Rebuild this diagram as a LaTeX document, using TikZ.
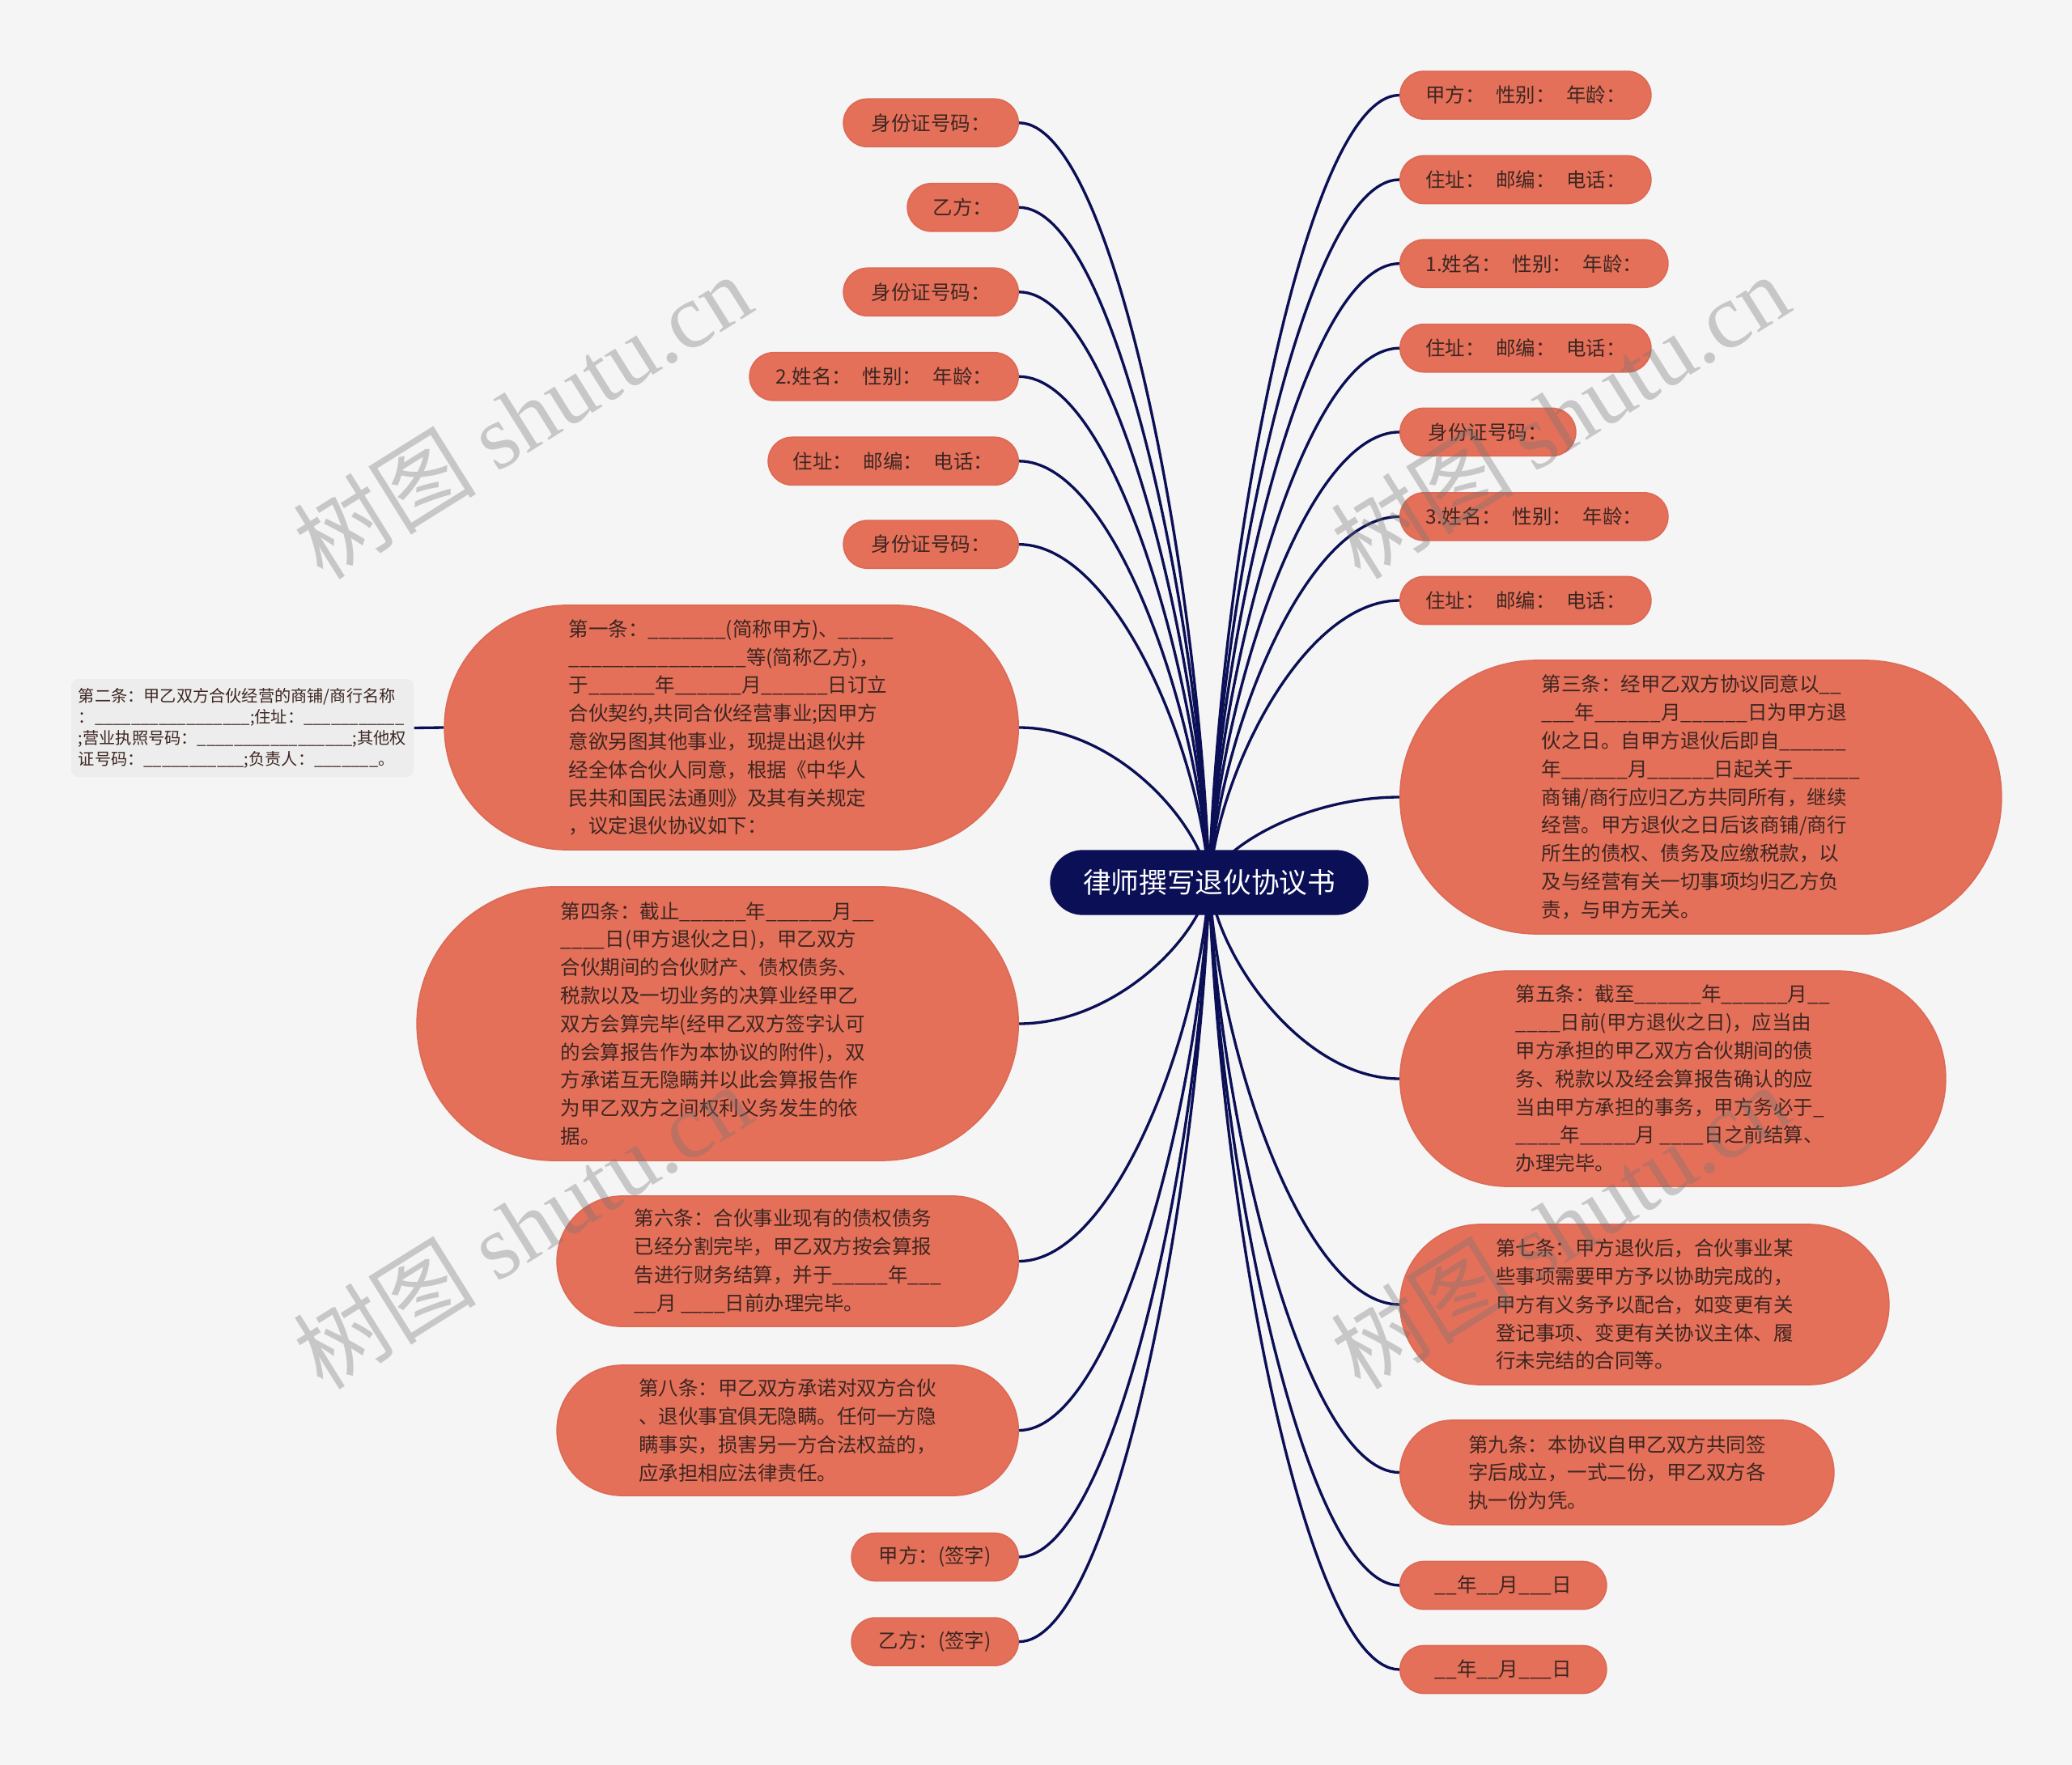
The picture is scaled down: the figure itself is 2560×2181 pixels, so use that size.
\documentclass[tikz,border=0pt]{standalone}
\usepackage{fontspec}
\setmainfont{Noto Sans CJK SC}
\newfontfamily\wmlatin{Liberation Serif}
\usetikzlibrary{shapes.misc,calc}
\definecolor{bgc}{HTML}{F5F5F5}
\definecolor{salmon}{HTML}{E4705A}
\definecolor{salmonedge}{HTML}{DC6A55}
\definecolor{txt}{HTML}{3D2621}
\definecolor{navy}{HTML}{0B0F55}
\definecolor{boxgray}{HTML}{EDEDED}
\pgfdeclarelayer{back}\pgfdeclarelayer{lines}\pgfsetlayers{back,lines,main}
\newcommand\pxu[1]{#1*0.3pt}
\newcount\blcnt
\newcommand\bl[1]{\blcnt=#1\relax\loop\ifnum\blcnt>0 \_\advance\blcnt by -1\relax\repeat}
\newcommand\kgap{\hspace{0.55em}}
\newcommand\leaffont{\fontsize{7.35}{10.44}\selectfont}
\newcommand\rootfont{\fontsize{10.4}{12}\selectfont}
\newcommand\notefont{\fontsize{6.06}{7.8}\selectfont}
\newcommand\wmfont{\fontsize{34}{40}\selectfont}
\newcommand\link[1]{\draw[conn] let \p1=(root.center), \p2=(#1) in (\p1) .. controls ({\x1+0.05*(\x2-\x1)},{\y1+0.4*(\y2-\y1)}) and ({0.5*\x1+0.5*\x2},{\y2}) .. (\p2);}
\tikzset{
 leaf/.style={rounded rectangle, fill=salmon, draw=salmonedge, line width=0.5pt, text=txt, font=\leaffont, inner xsep=0pt, inner ysep=0pt, minimum height={\pxu{59}}},
 lleaf/.style={leaf, anchor=east},
 rleaf/.style={leaf, anchor=west},
 big/.style={align=left},
 rootnode/.style={rounded rectangle, fill=navy, draw=navy, text=white, font=\rootfont, inner sep=0pt, minimum width={\pxu{392}}, minimum height={\pxu{79}}},
 note/.style={rectangle, rounded corners=2.5pt, fill=boxgray, text=txt, font=\notefont, align=left, inner sep=0pt, minimum width={\pxu{423}}, minimum height={\pxu{121}}},
 conn/.style={draw=navy, line width=1pt},
 wm/.style={text=black!55, opacity=0.35, font=\wmfont, rotate=32, inner sep=0pt},
}
\begin{document}
\begin{tikzpicture}[x=0.3pt,y=-0.3pt]
\useasboundingbox (0,0) rectangle (2560,2181);
\begin{pgfonlayer}{back}
\fill[bgc] (0,0) rectangle (2560,2181);
\end{pgfonlayer}

\node[rootnode] (root) at (1494,1090.5) {律师撰写退伙协议书};

% left side
\node[lleaf, minimum width={\pxu{216}}] (l1) at (1259,151.8) {身份证号码：};
\node[lleaf, minimum width={\pxu{137}}] (l2) at (1259,256.3) {乙方：};
\node[lleaf, minimum width={\pxu{216}}] (l3) at (1259,360.8) {身份证号码：};
\node[lleaf, minimum width={\pxu{332}}] (l4) at (1259,465.3) {2.姓名：\kgap 性别：\kgap 年龄：};
\node[lleaf, minimum width={\pxu{309}}] (l5) at (1259,569.8) {住址：\kgap 邮编：\kgap 电话：};
\node[lleaf, minimum width={\pxu{216}}] (l6) at (1259,672.7) {身份证号码：};
\node[lleaf, big, minimum width={\pxu{709}}, minimum height={\pxu{302}}] (l7) at (1259,899) {第一条：\bl{7}(简称甲方)、\bl{5}\\
\bl{16}等(简称乙方)，\\
于\bl{6}年\bl{6}月\bl{6}日订立\\
合伙契约,共同合伙经营事业;因甲方\\
意欲另图其他事业，现提出退伙并\\
经全体合伙人同意，根据《中华人\\
民共和国民法通则》及其有关规定\\
，议定退伙协议如下：};
\node[lleaf, big, minimum width={\pxu{743}}, minimum height={\pxu{338}}] (l8) at (1259,1265) {第四条：截止\bl{6}年\bl{6}月\bl{2}\\
\bl{4}日(甲方退伙之日)，甲乙双方\\
合伙期间的合伙财产、债权债务、\\
税款以及一切业务的决算业经甲乙\\
双方会算完毕(经甲乙双方签字认可\\
的会算报告作为本协议的附件)，双\\
方承诺互无隐瞒并以此会算报告作\\
为甲乙双方之间权利义务发生的依\\
据。};
\node[lleaf, big, minimum width={\pxu{570}}, minimum height={\pxu{161}}] (l9) at (1259,1558.5) {第六条：合伙事业现有的债权债务\\
已经分割完毕，甲乙双方按会算报\\
告进行财务结算，并于\bl{5}年\bl{3}\\
\bl{2}月 \bl{4}日前办理完毕。};
\node[lleaf, big, minimum width={\pxu{570}}, minimum height={\pxu{161}}] (l10) at (1259,1767.5) {第八条：甲乙双方承诺对双方合伙\\
、退伙事宜俱无隐瞒。任何一方隐\\
瞒事实，损害另一方合法权益的，\\
应承担相应法律责任。};
\node[lleaf, minimum width={\pxu{206}}] (l11) at (1259,1924) {甲方：(签字)};
\node[lleaf, minimum width={\pxu{206}}] (l12) at (1259,2028.6) {乙方：(签字)};

\node[note] (n2) at (299.5,899.5) {第二条：甲乙双方合伙经营的商铺/商行名称\\
：\bl{17};住址：\bl{11}\\
;营业执照号码：\bl{17};其他权\\
证号码：\bl{11};负责人：\bl{7}。};

% right side
\node[rleaf, minimum width={\pxu{310}}] (r1) at (1729,117.6) {甲方：\kgap 性别：\kgap 年龄：};
\node[rleaf, minimum width={\pxu{310}}] (r2) at (1729,222) {住址：\kgap 邮编：\kgap 电话：};
\node[rleaf, minimum width={\pxu{331}}] (r3) at (1729,325.7) {1.姓名：\kgap 性别：\kgap 年龄：};
\node[rleaf, minimum width={\pxu{310}}] (r4) at (1729,430.2) {住址：\kgap 邮编：\kgap 电话：};
\node[rleaf, minimum width={\pxu{217}}] (r5) at (1729,533.9) {身份证号码：};
\node[rleaf, minimum width={\pxu{331}}] (r6) at (1729,638.4) {3.姓名：\kgap 性别：\kgap 年龄：};
\node[rleaf, minimum width={\pxu{310}}] (r7) at (1729,742) {住址：\kgap 邮编：\kgap 电话：};
\node[rleaf, big, minimum width={\pxu{743}}, minimum height={\pxu{338}}] (r8) at (1729,985) {第三条：经甲乙双方协议同意以\bl{2}\\
\bl{3}年\bl{6}月\bl{6}日为甲方退\\
伙之日。自甲方退伙后即自\bl{6}\\
年\bl{6}月\bl{6}日起关于\bl{6}\\
商铺/商行应归乙方共同所有，继续\\
经营。甲方退伙之日后该商铺/商行\\
所生的债权、债务及应缴税款，以\\
及与经营有关一切事项均归乙方负\\
责，与甲方无关。};
\node[rleaf, big, minimum width={\pxu{674}}, minimum height={\pxu{266}}] (r9) at (1729,1333) {第五条：截至\bl{6}年\bl{6}月\bl{2}\\
\bl{4}日前(甲方退伙之日)，应当由\\
甲方承担的甲乙双方合伙期间的债\\
务、税款以及经会算报告确认的应\\
当由甲方承担的事务，甲方务必于\bl{1}\\
\bl{4}年\bl{5}月 \bl{4}日之前结算、\\
办理完毕。};
\node[rleaf, big, minimum width={\pxu{604}}, minimum height={\pxu{198}}] (r10) at (1729,1612) {第七条：甲方退伙后，合伙事业某\\
些事项需要甲方予以协助完成的，\\
甲方有义务予以配合，如变更有关\\
登记事项、变更有关协议主体、履\\
行未完结的合同等。};
\node[rleaf, big, minimum width={\pxu{536}}, minimum height={\pxu{129}}] (r11) at (1729,1819.5) {第九条：本协议自甲乙双方共同签\\
字后成立，一式二份，甲乙双方各\\
执一份为凭。};
\node[rleaf, minimum width={\pxu{255}}] (r12) at (1729,1959) {\_\_年\_\_月\_\_\_日};
\node[rleaf, minimum width={\pxu{255}}] (r13) at (1729,2063) {\_\_年\_\_月\_\_\_日};

\begin{pgfonlayer}{lines}
\foreach \nd in {l1,l2,l3,l4,l5,l6,l7,l8,l9,l10,l11,l12}{\link{\nd.east}}
\foreach \nd in {r1,r2,r3,r4,r5,r6,r7,r8,r9,r10,r11,r12,r13}{\link{\nd.west}}
\draw[conn] (l7.west) -- (n2.east);
\end{pgfonlayer}

% watermarks
\node[wm] (w1) at (645,514) {树图 {\wmlatin shutu.cn}};
\node[wm] (w2) at (1927,514) {树图 {\wmlatin shutu.cn}};
\node[wm] (w3) at (645,1515) {树图 {\wmlatin shutu.cn}};
\node[wm] (w4) at (1927,1515) {树图 {\wmlatin shutu.cn}};
\end{tikzpicture}
\end{document}
